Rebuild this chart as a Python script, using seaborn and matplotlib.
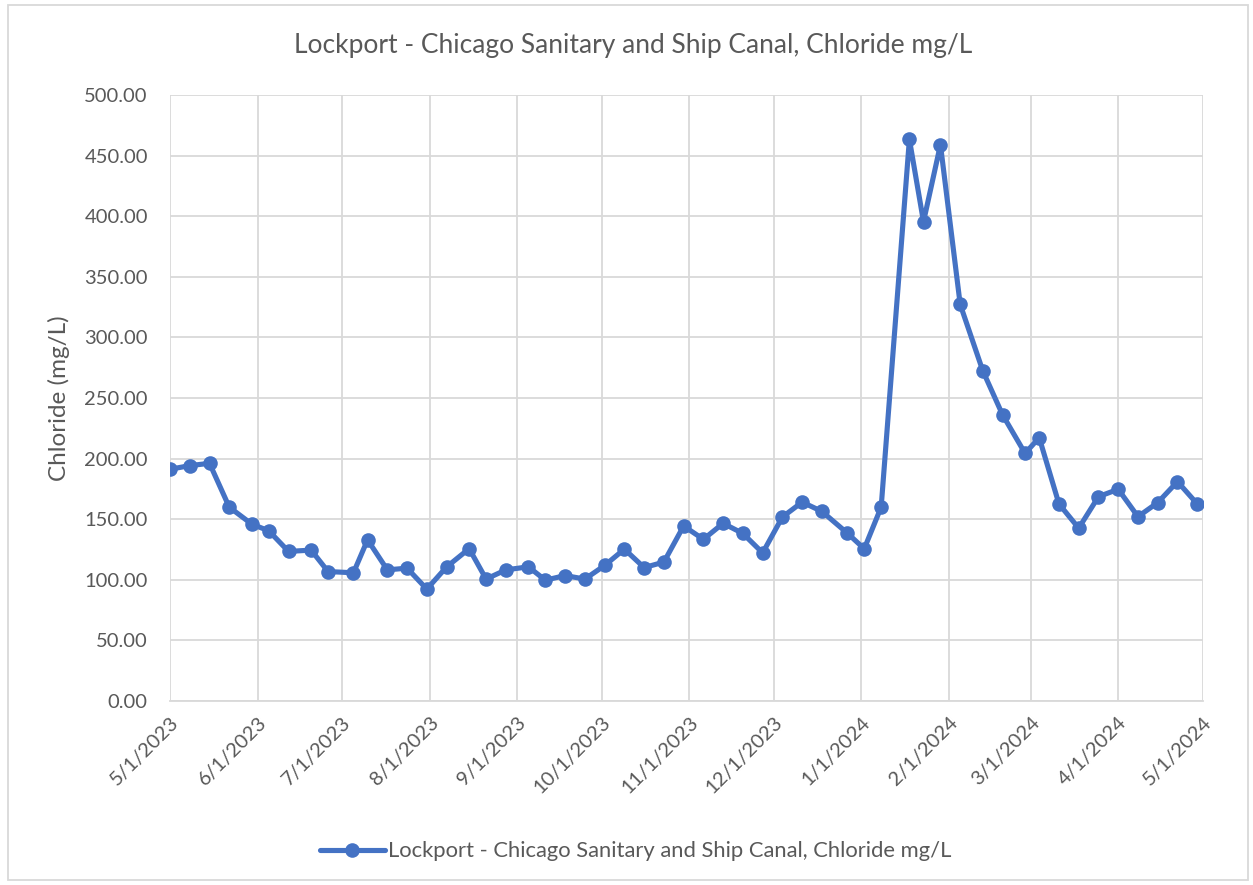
import numpy as np
import matplotlib
matplotlib.use('Agg')
import matplotlib.pyplot as plt
import matplotlib.dates as mdates
from matplotlib.patches import Rectangle
import pandas as pd
import seaborn as sns

dates = ['2023-05-01', '2023-05-08', '2023-05-15', '2023-05-22', '2023-05-30',
         '2023-06-05', '2023-06-12', '2023-06-20', '2023-06-26', '2023-07-05',
         '2023-07-10', '2023-07-17', '2023-07-24', '2023-07-31', '2023-08-07',
         '2023-08-15', '2023-08-21', '2023-08-28', '2023-09-05', '2023-09-11',
         '2023-09-18', '2023-09-25', '2023-10-02', '2023-10-09', '2023-10-16',
         '2023-10-23', '2023-10-30', '2023-11-06', '2023-11-13', '2023-11-20',
         '2023-11-27', '2023-12-04', '2023-12-11', '2023-12-18', '2023-12-27',
         '2024-01-02', '2024-01-08', '2024-01-18', '2024-01-23', '2024-01-29',
         '2024-02-05', '2024-02-13', '2024-02-20', '2024-02-28', '2024-03-04',
         '2024-03-11', '2024-03-18', '2024-03-25', '2024-04-01', '2024-04-08',
         '2024-04-15', '2024-04-22', '2024-04-29']
chloride = [191.2, 194.2, 196.1, 159.9, 145.9,
            140.4, 123.4, 124.5, 106.8, 105.8,
            133.0, 108.2, 109.6, 92.3, 110.6,
            125.7, 100.6, 108.2, 110.7, 99.7,
            103.5, 100.6, 111.8, 125.3, 110.1,
            114.6, 144.4, 133.4, 146.6, 138.2,
            122.2, 151.8, 164.1, 156.4, 138.5,
            125.6, 160.0, 463.4, 395.4, 459.0,
            327.2, 272.5, 236.2, 204.3, 217.3,
            162.6, 142.6, 168.6, 174.7, 152.1,
            163.7, 181.0, 162.6]

series_name = 'Lockport - Chicago Sanitary and Ship Canal, Chloride mg/L'
title = 'Lockport - Chicago Sanitary and Ship Canal, Chloride mg/L'

df = pd.DataFrame({'date': pd.to_datetime(dates), 'chloride': chloride})

sns.set_style('white')
plt.rcParams['font.family'] = ['Lato', 'DejaVu Sans']

blue = '#4472C4'
grid = '#D9D9D9'
txt = '#595959'

fig = plt.figure(figsize=(12.53, 8.85), dpi=100)
ax = fig.add_axes([0.1357, 0.2079, 0.960 - 0.1357, 0.8927 - 0.2079])

sns.lineplot(data=df, x='date', y='chloride', ax=ax, color=blue, linewidth=3.7,
             marker='o', markersize=10.5, markeredgewidth=0, label=series_name)

ax.set_xlim(pd.Timestamp('2023-05-01'), pd.Timestamp('2024-05-01'))
ax.set_ylim(0, 500)
ax.set_yticks(np.arange(0, 501, 50))
ax.yaxis.set_major_formatter(matplotlib.ticker.FormatStrFormatter('%.2f'))
ax.xaxis.set_major_locator(mdates.MonthLocator())
ax.xaxis.set_major_formatter(matplotlib.ticker.FuncFormatter(
    lambda v, p: (lambda d: f'{d.month}/{d.day}/{d.year}')(mdates.num2date(v))))

ax.grid(True, color=grid, linewidth=1.3)
for s in ax.spines.values():
    s.set_visible(False)
ax.spines['bottom'].set_visible(True)
ax.spines['bottom'].set_color(grid)
ax.spines['bottom'].set_linewidth(1.3)

ax.tick_params(axis='x', which='major', direction='out', length=7, width=1.3,
               color=grid, labelsize=14.5, labelcolor=txt, pad=2)
ax.tick_params(axis='y', length=0, labelsize=14.5, labelcolor=txt, pad=16)
for lab in ax.get_xticklabels():
    lab.set_rotation(45)
    lab.set_ha('right')
    lab.set_rotation_mode('anchor')

ax.set_xlabel('')
ax.set_ylabel('Chloride (mg/L)', fontsize=17.5, color=txt, labelpad=10)
fig.text(0.505, 0.949, title, ha='center', va='center', fontsize=19, color=txt)

leg = ax.legend(loc='center', frameon=False, fontsize=15.8, handlelength=3.0,
                handletextpad=0.1)
leg.set_bbox_to_anchor((0.507, 0.038), transform=fig.transFigure)
for t in leg.get_texts():
    t.set_color(txt)

fig.patches.append(Rectangle((0.006, 0.006), 0.99, 0.988, transform=fig.transFigure,
                             fill=False, edgecolor=grid, linewidth=1.3))

fig.savefig('out.png', dpi=100)
